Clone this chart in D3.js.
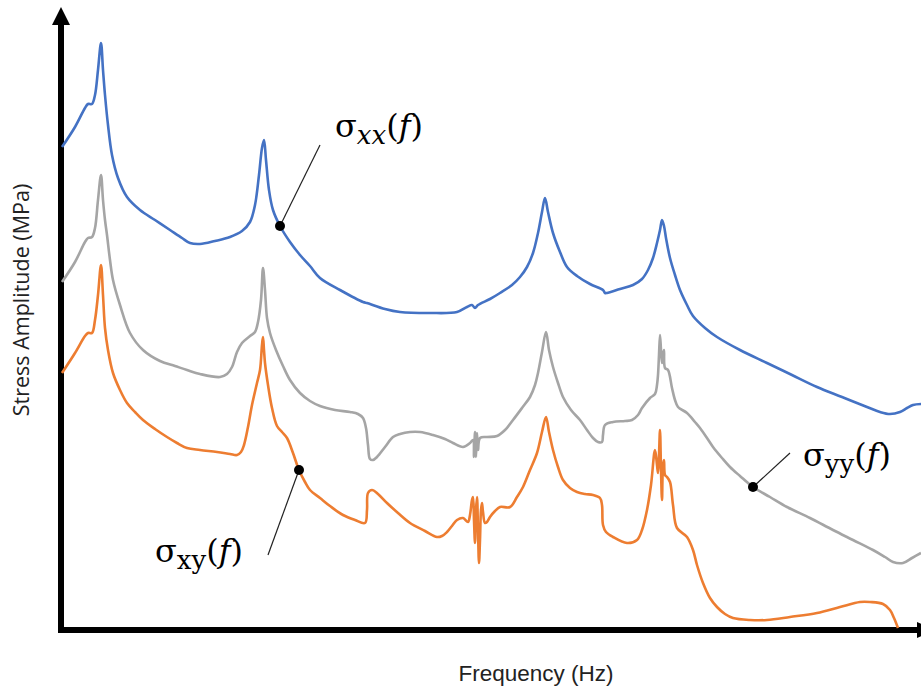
<!DOCTYPE html>
<html>
<head>
<meta charset="utf-8">
<script src="https://cdn.jsdelivr.net/npm/d3@7"></script>
<style>
  body { margin: 0; background: #fff; }
  svg { display: block; }
</style>
</head>
<body>
<script>
// stress amplitude spectra, arbitrary units: [frequency, amplitude]
const sigmaXX = [
  [0,483],[13,503],[23,522],[26,526],[30,526],[33,535],[36,560],[39,587],[41,560],[43,535],
  [46,505],[50,475],[56,452],[65,433],[78,420],[93,410],[108,400],[120,392],[128,387],[138,386],
  [153,389],[168,393],[180,399],[188,408],[193,425],[197,455],[200,482],[202,490],[204,470],[207,440],
  [211,420],[218,404],[228,388],[238,375],[248,364],[258,352],[278,340],[301,328],[305,327],[308,326],
  [323,321],[338,318],[368,317],[395,318],[405,323],[410,325],[413,322],[416,325],[428,331],[438,337],
  [450,345],[458,353],[465,363],[471,377],[476,397],[480,418],[483,432],[486,418],[491,397],[498,378],
  [505,363],[515,354],[528,346],[541,340],[543,337],[545,337],[558,341],[571,345],[580,351],[586,360],
  [591,372],[595,387],[598,400],[600,410],[602,404],[604,392],[608,372],[613,355],[618,340],[625,325],
  [631,314],[643,302],[655,293],[678,280],[705,267],[730,255],[755,243],[780,233],[805,223],[818,218],
  [828,216],[838,218],[845,222],[851,225],[859,226]
];

const sigmaYY = [
  [0,348],[13,368],[23,388],[26,392],[30,393],[33,402],[36,430],[39,455],[41,430],[43,410],
  [45,395],[48,370],[51,350],[58,325],[68,297],[81,280],[98,269],[113,264],[125,260],[138,256],
  [158,253],[165,256],[170,263],[175,278],[180,287],[188,294],[193,298],[196,308],[199,330],[201,362],
  [203,340],[205,312],[208,297],[214,280],[221,264],[228,250],[238,237],[248,229],[258,224],[273,220],
  [288,218],[296,216],[301,212],[304,202],[306,185],[308,171],[311,170],[315,173],[323,183],[331,193],
  [338,196],[348,198],[358,198],[371,195],[383,191],[391,187],[401,183],[408,187],[411,190],[412,173],
  [413,198],[414,173],[415,197],[416,180],[418,192],[425,193],[435,194],[443,200],[451,210],[460,222],
  [468,233],[473,245],[476,257],[480,278],[484,298],[487,280],[491,263],[496,247],[501,233],[509,220],
  [518,210],[525,200],[531,192],[536,188],[540,188],[541,195],[543,205],[551,208],[563,209],[570,210],
  [576,215],[580,222],[588,232],[593,236],[595,245],[596,255],[597,275],[598,295],[599,280],[600,267],
  [601,275],[602,280],[603,262],[606,260],[610,242],[613,230],[616,223],[625,217],[633,208],[638,202],
  [645,192],[651,183],[660,172],[668,163],[678,154],[691,143],[708,133],[725,123],[748,112],[771,100],
  [791,90],[811,80],[823,73],[831,68],[841,67],[850,72],[859,77]
];

const sigmaXY = [
  [0,257],[13,277],[23,294],[26,297],[30,297],[33,310],[36,335],[39,365],[41,335],[43,302],
  [46,280],[51,257],[58,240],[65,227],[73,218],[81,210],[93,201],[105,193],[115,187],[125,182],
  [138,180],[155,178],[168,176],[175,175],[179,178],[182,185],[186,203],[190,225],[195,247],[198,260],
  [200,285],[201,293],[202,280],[203,267],[206,245],[210,222],[215,204],[220,198],[225,192],[231,177],
  [237,160],[243,148],[248,140],[258,132],[268,124],[281,115],[293,110],[303,107],[305,120],[306,137],
  [310,140],[316,136],[325,127],[336,117],[348,107],[363,99],[375,93],[380,94],[385,98],[390,104],
  [395,110],[401,112],[406,108],[408,115],[410,130],[411,133],[412,110],[413,87],[414,120],[415,133],
  [416,100],[417,67],[418,90],[419,120],[420,127],[421,118],[423,107],[425,108],[428,113],[433,119],
  [438,123],[448,123],[455,133],[461,143],[468,160],[475,177],[480,198],[484,213],[487,198],[491,180],
  [496,163],[501,150],[508,142],[515,138],[523,136],[531,135],[538,132],[540,125],[541,105],[544,98],
  [551,93],[565,87],[575,90],[580,100],[585,120],[589,145],[593,180],[595,165],[596,157],[597,175],
  [598,200],[599,160],[600,130],[601,165],[602,170],[603,155],[605,153],[608,148],[611,125],[615,102],
  [625,93],[631,80],[635,65],[641,47],[648,32],[655,23],[663,16],[671,12],[688,10],[705,10],
  [728,13],[755,17],[778,23],[798,28],[808,28],[821,26],[828,20],[832,12],[836,2]
];

// which point each callout marks, and where its label sits (frequency, amplitude)
const seriesNames = ["xx", "yy", "xy"];
const markerIndex = [31, 115, 40];
const labelAnchor = [[258, 485], [728, 177], [206, 75]];
const labelPos = [[273, 493], [741, 164], [93, 68]];

const width = 921, height = 691;
const x0 = 61, y0 = 630;

const svg = d3.select("body").append("svg")
  .attr("width", width)
  .attr("height", height);

const x = d3.scaleLinear().domain([0, 859]).range([62, 921]);
const y = d3.scaleLinear().domain([0, 630]).range([630, 0]);

const line = d3.line()
  .x(d => x(d[0]))
  .y(d => y(d[1]))
  .curve(d3.curveCatmullRom.alpha(0.5));

const series = [
  { data: sigmaXX, color: "#4472C4" },
  { data: sigmaYY, color: "#A5A5A5" },
  { data: sigmaXY, color: "#ED7D31" }
];

// axes: plain thick arrows, no ticks
svg.append("line")
  .attr("x1", x0).attr("y1", y0 + 3)
  .attr("x2", x0).attr("y2", 24)
  .attr("stroke", "#000").attr("stroke-width", 6);
svg.append("path")
  .attr("d", `M${x0 - 9},25 L${x0},7 L${x0 + 9},25 Z`)
  .attr("fill", "#000");

svg.append("line")
  .attr("x1", x0 - 3).attr("y1", y0)
  .attr("x2", 918).attr("y2", y0)
  .attr("stroke", "#000").attr("stroke-width", 6);
svg.append("path")
  .attr("d", `M917,${y0 - 8} L935,${y0} L917,${y0 + 8} Z`)
  .attr("fill", "#000");

// curves
svg.selectAll("path.series")
  .data(series)
  .enter()
  .append("path")
  .attr("class", "series")
  .attr("d", d => line(d.data))
  .attr("fill", "none")
  .attr("stroke", d => d.color)
  .attr("stroke-width", 2.6)
  .attr("stroke-linejoin", "round");

// callouts
series.forEach((s, i) => {
  const p = s.data[markerIndex[i]];
  svg.append("line")
    .attr("x1", x(p[0])).attr("y1", y(p[1]))
    .attr("x2", x(labelAnchor[i][0])).attr("y2", y(labelAnchor[i][1]))
    .attr("stroke", "#222").attr("stroke-width", 1.2);
  svg.append("circle")
    .attr("cx", x(p[0])).attr("cy", y(p[1]))
    .attr("r", 5)
    .attr("fill", "#000");

  const t = svg.append("text")
    .attr("x", x(labelPos[i][0]))
    .attr("y", y(labelPos[i][1]))
    .attr("font-family", "DejaVu Serif")
    .attr("font-size", 32)
    .attr("fill", "#000");
  t.append("tspan").text("σ");
  t.append("tspan")
    .attr("dy", 7)
    .attr("font-size", 26)
    .attr("font-style", i === 0 ? "italic" : "normal")
    .text(seriesNames[i]);
  t.append("tspan").attr("dy", -7).text("(");
  t.append("tspan").attr("font-style", "italic").text("f");
  t.append("tspan").text(")");
});

// axis titles
svg.append("text")
  .attr("x", 536).attr("y", 681)
  .attr("text-anchor", "middle")
  .attr("font-family", "Liberation Sans")
  .attr("font-size", 22.5)
  .attr("fill", "#222")
  .text("Frequency (Hz)");

svg.append("text")
  .attr("transform", "translate(29,300) rotate(-90)")
  .attr("text-anchor", "middle")
  .attr("font-family", "Open Sans")
  .attr("font-size", 21.5)
  .attr("fill", "#222")
  .text("Stress Amplitude (MPa)");
</script>
</body>
</html>
